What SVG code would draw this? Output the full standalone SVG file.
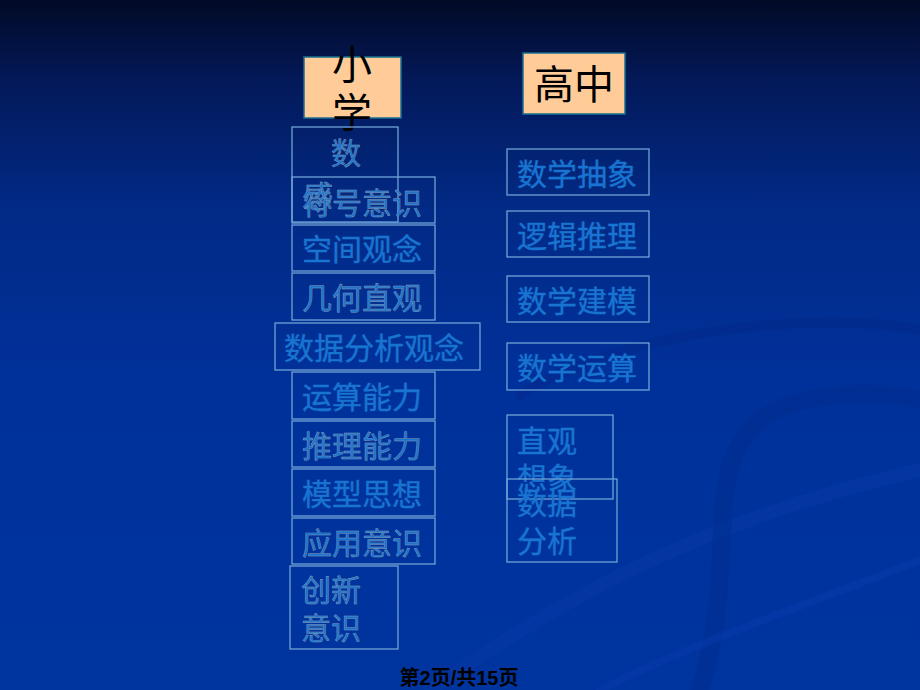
<svg xmlns="http://www.w3.org/2000/svg" width="920" height="690" viewBox="0 0 920 690">
<defs>
<linearGradient id="bg" x1="0" y1="0" x2="0" y2="1">
<stop offset="0" stop-color="#010a26"/>
<stop offset="0.12" stop-color="#03195a"/>
<stop offset="0.3" stop-color="#022a86"/>
<stop offset="0.55" stop-color="#00319a"/>
<stop offset="1" stop-color="#00349f"/>
</linearGradient>
<style>
.hd{fill:#ffcc99;stroke:#1a6f8f;stroke-width:1.5}
.bx{fill:none;stroke:#6fa3d6;stroke-width:1.3}
.ht{font-family:"Noto Sans CJK SC","Noto Sans",sans-serif;font-size:40px;fill:#000}
.t{font-family:"Noto Sans CJK SC","Noto Sans",sans-serif;font-size:30px;fill:#1874d0;stroke:#1874d0;stroke-width:0.4}
.e{stroke:#8a9cb2;stroke-width:0.45}
.ft{font-family:"Liberation Sans","Noto Sans CJK SC",sans-serif;font-size:20px;font-weight:bold;fill:#000}
</style>
</defs>
<rect width="920" height="690" fill="url(#bg)"/>
<g fill="none" stroke-linecap="round">
<path d="M520 395 C620 330 820 310 920 330" stroke="#05288a" stroke-width="10" opacity="0.45"/>
<path d="M430 690 C560 600 700 520 920 470" stroke="#0a3aa8" stroke-width="14" opacity="0.4"/>
<path d="M700 690 C740 560 700 470 760 420 C800 390 880 390 920 400" stroke="#002c8c" stroke-width="18" opacity="0.45"/>
<path d="M600 690 C700 640 820 600 920 560" stroke="#0a3cae" stroke-width="8" opacity="0.4"/>
</g>

<g id="n-xiaoxue"><rect class="hd" x="304" y="57" width="97" height="61"/><text class="ht" x="352" y="79" text-anchor="middle">小</text><text class="ht" x="352" y="127" text-anchor="middle">学</text></g>
<g id="n-gaozhong"><rect class="hd" x="523" y="53" width="102" height="61"/><text class="ht" x="574" y="99" text-anchor="middle">高中</text></g>

<g id="n-shugan"><rect class="bx" x="292" y="127" width="106" height="95"/><text class="t e" x="346" y="164" text-anchor="middle">数</text><text class="t e" x="303" y="207">感</text></g>
<g id="n-fuhao"><rect class="bx" x="292" y="177" width="143" height="46"/><text class="t e" x="302" y="214">符号意识</text></g>
<g id="n-kongjian"><rect class="bx" x="292" y="225" width="143" height="46"/><text class="t" x="302" y="260">空间观念</text></g>
<g id="n-jihe"><rect class="bx" x="292" y="273" width="143" height="47"/><text class="t e" x="302" y="309">几何直观</text></g>
<g id="n-shuju"><rect class="bx" x="275" y="323" width="205" height="47"/><text class="t" x="284" y="359">数据分析观念</text></g>
<g id="n-yunsuan"><rect class="bx" x="292" y="372" width="143" height="47"/><text class="t" x="302" y="408">运算能力</text></g>
<g id="n-tuili"><rect class="bx" x="292" y="421" width="143" height="46"/><text class="t e" x="302" y="457">推理能力</text></g>
<g id="n-moxing"><rect class="bx" x="292" y="469" width="143" height="47"/><text class="t" x="302" y="505">模型思想</text></g>
<g id="n-yingyong"><rect class="bx" x="292" y="518" width="143" height="46"/><text class="t e" x="302" y="554">应用意识</text></g>
<g id="n-chuangxin"><rect class="bx" x="290" y="566" width="108" height="83"/><text class="t e" x="301" y="601">创新</text><text class="t e" x="301" y="639">意识</text></g>

<g id="n-chouxiang"><rect class="bx" x="507" y="149" width="142" height="46"/><text class="t" x="517" y="185">数学抽象</text></g>
<g id="n-luoji"><rect class="bx" x="507" y="211" width="142" height="46"/><text class="t" x="517" y="247">逻辑推理</text></g>
<g id="n-jianmo"><rect class="bx" x="507" y="276" width="142" height="46"/><text class="t" x="517" y="312">数学建模</text></g>
<g id="n-shuxueyunsuan"><rect class="bx" x="507" y="343" width="142" height="47"/><text class="t" x="517" y="379">数学运算</text></g>
<g id="n-zhiguan"><rect class="bx" x="507" y="415" width="106" height="84"/><text class="t" x="517" y="452">直观</text><text class="t" x="517" y="489">想象</text></g>
<g id="n-shujufenxi"><rect class="bx" x="507" y="479" width="110" height="83"/><text class="t" x="517" y="514">数据</text><text class="t" x="517" y="552">分析</text></g>

<g id="connectors"></g>

<text class="ft" x="459" y="685" text-anchor="middle">第2页/共15页</text>
</svg>
